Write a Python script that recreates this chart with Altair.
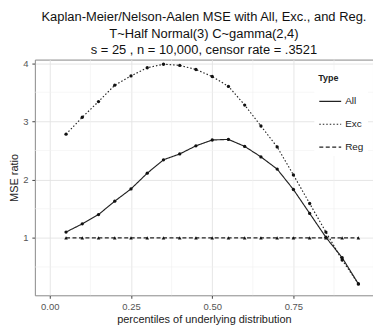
import altair as alt
import pandas as pd

percentiles = [0.05, 0.10, 0.15, 0.20, 0.25, 0.30, 0.35, 0.40, 0.45, 0.50,
               0.55, 0.60, 0.65, 0.70, 0.75, 0.80, 0.85, 0.90, 0.95]
all_vals = [1.10, 1.24, 1.40, 1.63, 1.84, 2.11, 2.34, 2.44, 2.58, 2.68,
            2.69, 2.57, 2.39, 2.18, 1.83, 1.42, 1.01, 0.66, 0.21]
exc_vals = [2.78, 3.07, 3.34, 3.62, 3.78, 3.92, 3.98, 3.96, 3.89, 3.77,
            3.60, 3.28, 2.92, 2.56, 2.08, 1.59, 1.10, 0.62, 0.21]
reg_vals = [1.0] * 19
types = ["All", "Exc", "Reg"]

x_ticks = [0.0, 0.25, 0.5, 0.75]
y_ticks = [1, 2, 3, 4]
x_minor = [0.125, 0.375, 0.625, 0.875]
y_minor = [0.5, 1.5, 2.5, 3.5]

rows = []
for t, vals in zip(types, [all_vals, exc_vals, reg_vals]):
    for p, v in zip(percentiles, vals):
        rows.append({"p": p, "v": v, "Type": t})
df = pd.DataFrame(rows)

FONT = "Liberation Sans"
xscale = alt.Scale(domain=[-0.046, 0.995], nice=False, zero=False)
yscale = alt.Scale(domain=[0.014, 4.06], nice=False, zero=False)

xaxis = alt.Axis(values=x_ticks, format=".2f", title="percentiles of underlying distribution",
                 grid=True, gridColor="#e3e3e3", gridWidth=0.9,
                 tickColor="#444", tickSize=3, domain=False,
                 labelColor="#555", labelFontSize=9.5, labelFont=FONT, labelPadding=3,
                 titleFont=FONT, titleFontSize=11, titleFontWeight="normal",
                 titleColor="#222", titlePadding=3)
yaxis = alt.Axis(values=y_ticks, format="d", title="MSE ratio",
                 grid=True, gridColor="#e3e3e3", gridWidth=0.9,
                 tickColor="#444", tickSize=3, domain=False,
                 labelColor="#555", labelFontSize=9.5, labelFont=FONT, labelPadding=4,
                 titleFont=FONT, titleFontSize=11, titleFontWeight="normal",
                 titleColor="#222", titlePadding=3)

minor_x = alt.Chart(pd.DataFrame({"p": x_minor})).mark_rule(color="#efefef", strokeWidth=0.6).encode(
    x=alt.X("p:Q", scale=xscale, axis=xaxis))
minor_y = alt.Chart(pd.DataFrame({"v": y_minor})).mark_rule(color="#efefef", strokeWidth=0.6).encode(
    y=alt.Y("v:Q", scale=yscale, axis=yaxis))

lines = alt.Chart(df).mark_line(color="#222", strokeWidth=1.15).encode(
    x=alt.X("p:Q", scale=xscale, axis=xaxis),
    y=alt.Y("v:Q", scale=yscale, axis=yaxis),
    strokeDash=alt.StrokeDash("Type:N",
        scale=alt.Scale(domain=types, range=[[1, 0], [1.5, 2], [4, 2.5]]),
        legend=alt.Legend(title="Type", orient="none", legendX=281, legendY=11,
                          symbolType="stroke", symbolSize=484, symbolStrokeWidth=1.1,
                          symbolStrokeColor="#222", rowPadding=6,
                          titleFont=FONT, titleFontSize=9, titleFontWeight="bold", titleColor="#222",
                          titlePadding=6,
                          labelFont=FONT, labelFontSize=10, labelColor="#222", labelOffset=3,
                          fillColor="white", padding=4)),
)

points_ae = alt.Chart(df).transform_filter(alt.datum.Type != "Reg").mark_point(
    filled=True, size=11, color="#111", opacity=1, shape="circle").encode(
    x=alt.X("p:Q", scale=xscale, axis=xaxis),
    y=alt.Y("v:Q", scale=yscale, axis=yaxis),
)
points_reg = alt.Chart(df).transform_filter(alt.datum.Type == "Reg").mark_point(
    filled=True, size=13, color="#111", opacity=1, shape="triangle-up").encode(
    x=alt.X("p:Q", scale=xscale, axis=xaxis),
    y=alt.Y("v:Q", scale=yscale, axis=yaxis),
)

chart = alt.layer(minor_x, minor_y, lines, points_ae, points_reg).properties(
    width=340, height=237,
    title=alt.TitleParams(
        text=["Kaplan-Meier/Nelson-Aalen MSE with All, Exc., and Reg.",
              "T~Half Normal(3) C~gamma(2,4)",
              "s = 25 , n = 10,000, censor rate = .3521"],
        font=FONT, fontSize=13, fontWeight="normal", color="#111",
        anchor="middle", offset=1, lineHeight=16.5),
    autosize=alt.AutoSizeParams(type="none"),
    padding={"left": 27, "top": 51, "right": 0, "bottom": 30},
).configure_view(stroke="#888", strokeWidth=1)

chart.save("out.html", embed_options={"renderer": "svg", "actions": False})
